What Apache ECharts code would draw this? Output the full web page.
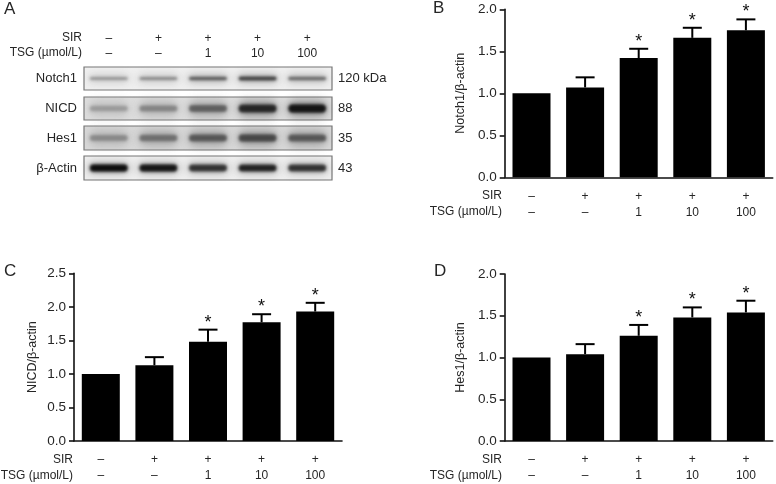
<!DOCTYPE html>
<html>
<head>
<meta charset="utf-8">
<style>html,body{margin:0;padding:0;background:#fff}#c{width:776px;height:484px}</style>
<script src="https://cdn.jsdelivr.net/npm/echarts@6/dist/echarts.min.js"></script>
</head>
<body>
<div id="c"></div>
<script>
const groupLabels = ['–\n–', '+\n–', '+\n1', '+\n10', '+\n100'];
const rowTitleSir = 'SIR';
const rowTitleTsg = 'TSG (µmol/L)';

const notchMean = [1.0, 1.07, 1.42, 1.66, 1.75];
const notchUpper = [null, 1.19, 1.53, 1.78, 1.88];
const nicdMean = [1.0, 1.13, 1.48, 1.77, 1.93];
const nicdUpper = [null, 1.25, 1.66, 1.89, 2.06];
const hesMean = [1.0, 1.04, 1.26, 1.48, 1.54];
const hesUpper = [null, 1.16, 1.39, 1.6, 1.68];
const significant = [false, false, true, true, true];

const blotNotch = [0.42, 0.48, 0.68, 0.78, 0.62];
const blotNicd = [0.34, 0.45, 0.62, 0.86, 0.92];
const blotHes = [0.42, 0.55, 0.66, 0.72, 0.66];
const blotActin = [0.95, 0.92, 0.82, 0.88, 0.82];
const blotNames = ['Notch1', 'NICD', 'Hes1', 'β-Actin'];
const blotSizes = ['120 kDa', '88', '35', '43'];

const FONT = '"Liberation Sans", Arial, sans-serif';
const INK = '#262626';

const grids = [], xAxes = [], yAxes = [], series = [], graphics = [];

function text(str, x, y, size, align) {
  graphics.push({ type: 'text', x, y, silent: true,
    style: { text: str, fontSize: size, fontFamily: FONT, fill: INK, align, verticalAlign: 'middle' } });
}

// Soft blot band: only the blurred shadow of an off-canvas rect is visible.
function blob(cx, cy, w, h, color, blur) {
  const off = 2000;
  return { type: 'rect',
    shape: { x: cx - w / 2 - off, y: cy - h / 2, width: w, height: h, r: h / 2 },
    style: { fill: '#000', shadowColor: color, shadowBlur: blur, shadowOffsetX: off } };
}

function addStrip(values, top, height, bandH, spread, bg, name, size, withHeader) {
  const idx = grids.length;
  grids.push({ left: 84, top, width: 248, height, show: true, backgroundColor: bg, borderColor: '#777', borderWidth: 1.2 });
  xAxes.push({
    gridIndex: idx, type: 'category', data: groupLabels, position: 'top',
    axisLine: { show: false }, axisTick: { show: false },
    axisLabel: withHeader
      ? { show: true, interval: 0, margin: 6, fontSize: 12, lineHeight: 15, fontFamily: FONT, color: INK }
      : { show: false }
  });
  yAxes.push({ gridIndex: idx, type: 'value', min: 0, max: 1, show: false });
  series.push({
    type: 'custom', xAxisIndex: idx, yAxisIndex: idx, silent: true,
    data: values.map((v, i) => [i, 0.5, v]),
    encode: { x: 0, y: 1 },
    renderItem(params, api) {
      const p = api.coord([api.value(0), api.value(1)]);
      const v = api.value(2);
      const g = Math.round(200 * (1 - v));
      return { type: 'group', children: [
        blob(p[0], p[1], 40, spread, `rgba(${g + 30},${g + 30},${g + 30},0.45)`, 8),
        blob(p[0], p[1], 38, bandH * (0.5 + v * 0.6), `rgba(${g},${g},${g},${0.5 + v * 0.5})`, 3)
      ] };
    }
  });
  text(name, 77, top + height / 2, 13, 'right');
  text(size, 338, top + height / 2, 13, 'left');
}

function addPanel(letter, lx, ly, left, top, height, maxV, yName, nameGap, mean, upper, titleRight) {
  const idx = grids.length;
  grids.push({ left, top, width: 268, height });
  xAxes.push({
    gridIndex: idx, type: 'category', data: groupLabels,
    axisLine: { lineStyle: { color: '#111', width: 1.6 } },
    axisTick: { alignWithLabel: true, length: 5, lineStyle: { color: '#111', width: 1.6 } },
    axisLabel: { interval: 0, margin: 11, fontSize: 12, lineHeight: 16, fontFamily: FONT, color: INK }
  });
  yAxes.push({
    gridIndex: idx, type: 'value', min: 0, max: maxV, interval: 0.5,
    name: yName, nameLocation: 'middle', nameRotate: 90, nameGap,
    nameTextStyle: { fontSize: 12.5, fontFamily: FONT, color: INK },
    splitLine: { show: false },
    axisLine: { show: true, lineStyle: { color: '#111', width: 1.6 } },
    axisTick: { show: true, length: 5, lineStyle: { color: '#111', width: 1.6 } },
    axisLabel: { margin: 8, fontSize: 13.5, fontFamily: FONT, color: INK, formatter: v => v.toFixed(1) }
  });
  series.push({
    type: 'bar', xAxisIndex: idx, yAxisIndex: idx, barWidth: 38, silent: true,
    itemStyle: { color: '#000' }, data: mean
  });
  series.push({
    type: 'custom', xAxisIndex: idx, yAxisIndex: idx, silent: true, z: 3,
    data: mean.map((m, i) => [i, m, upper[i] === null ? m : upper[i], significant[i] ? 1 : 0]),
    encode: { x: 0, y: [1, 2] },
    renderItem(params, api) {
      const i = api.value(0);
      const a = api.coord([i, api.value(1)]);
      const b = api.coord([i, api.value(2)]);
      if (a[1] === b[1]) return { type: 'group', children: [] };
      const ls = { stroke: '#000', lineWidth: 2 };
      const kids = [
        { type: 'line', shape: { x1: a[0], y1: a[1], x2: b[0], y2: b[1] }, style: ls },
        { type: 'line', shape: { x1: a[0] - 9.5, y1: b[1], x2: b[0] + 9.5, y2: b[1] }, style: ls }
      ];
      if (api.value(3)) {
        kids.push({ type: 'text', x: a[0], y: b[1] - 7,
          style: { text: '*', fontSize: 18, fontFamily: FONT, fill: '#111', align: 'center', verticalAlign: 'middle' } });
      }
      return { type: 'group', children: kids };
    }
  });
  text(letter, lx, ly, 17, 'left');
  text(rowTitleSir, titleRight, top + height + 18.7, 12, 'right');
  text(rowTitleTsg, titleRight, top + height + 34.7, 12, 'right');
}

addStrip(blotNotch, 67, 23, 4, 7, '#f0f0f0', blotNames[0], blotSizes[0], true);
addStrip(blotNicd, 97, 23, 8, 16, '#dedede', blotNames[1], blotSizes[1], false);
addStrip(blotHes, 126, 24, 8, 16, '#d9d9d9', blotNames[2], blotSizes[2], false);
addStrip(blotActin, 156, 24, 7, 9, '#efefef', blotNames[3], blotSizes[3], false);

text('A', 4, 9, 17, 'left');
text(rowTitleSir, 82, 38, 12, 'right');
text(rowTitleTsg, 82, 53, 12, 'right');

addPanel('B', 433, 8, 504.7, 9.3, 168, 2, 'Notch1/β-actin', 38, notchMean, notchUpper, 502);
addPanel('C', 4, 271, 74, 273.3, 167.7, 2.5, 'NICD/β-actin', 35, nicdMean, nicdUpper, 73);
addPanel('D', 434, 271, 504.7, 274, 167.3, 2, 'Hes1/β-actin', 38, hesMean, hesUpper, 502);

const chart = echarts.init(document.getElementById('c'), null, { renderer: 'canvas' });
chart.setOption({
  animation: false,
  backgroundColor: '#fff',
  grid: grids, xAxis: xAxes, yAxis: yAxes, series,
  graphic: { elements: graphics }
});
</script>
</body>
</html>
